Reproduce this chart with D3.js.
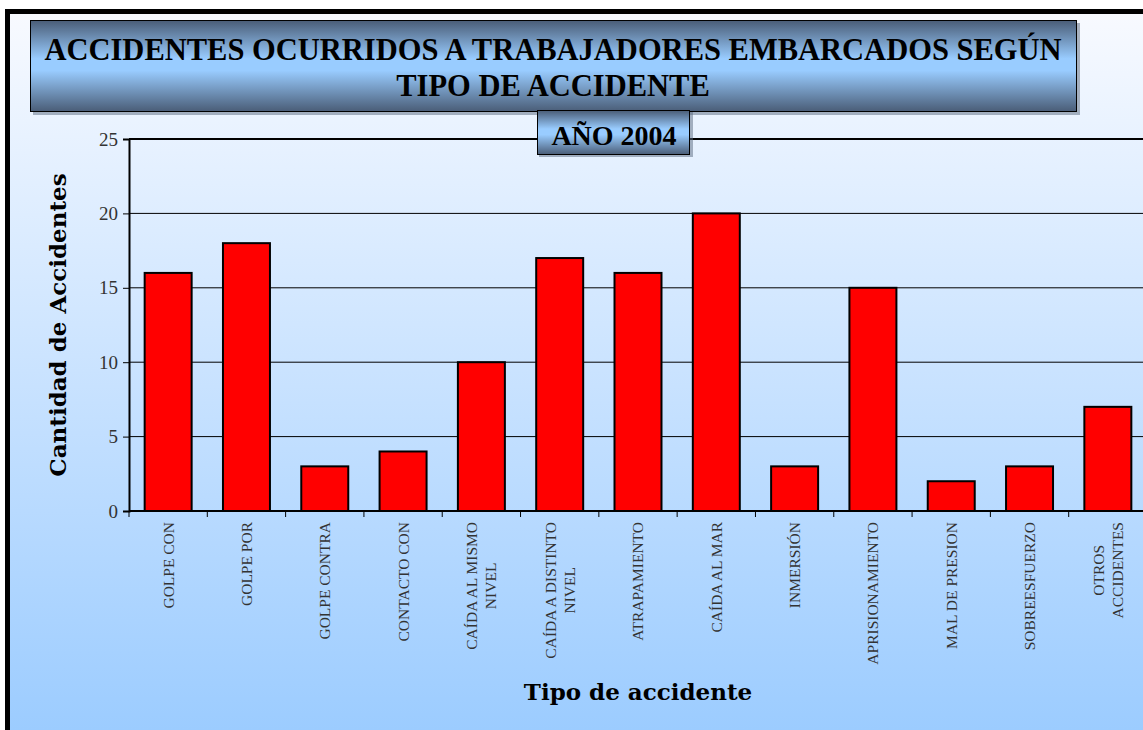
<!DOCTYPE html>
<html>
<head>
<meta charset="utf-8">
<script src="https://cdn.jsdelivr.net/npm/d3@7"></script>
<style>
  html, body { margin: 0; padding: 0; background: #fff; overflow: hidden; }
</style>
</head>
<body>
<svg id="chart" width="1143" height="730"></svg>
<script>
// Data.
const categories = [
  "GOLPE CON", "GOLPE POR", "GOLPE CONTRA", "CONTACTO CON",
  "CAÍDA AL MISMO\nNIVEL", "CAÍDA A DISTINTO\nNIVEL", "ATRAPAMIENTO",
  "CAÍDA AL MAR", "INMERSIÓN", "APRISIONAMIENTO", "MAL DE PRESION",
  "SOBREESFUERZO", "OTROS\nACCIDENTES"
];
const values = [16, 18, 3, 4, 10, 17, 16, 20, 3, 15, 2, 3, 7];
const yTicks = [0, 5, 10, 15, 20, 25];
const titleLines = ["ACCIDENTES OCURRIDOS A TRABAJADORES EMBARCADOS SEGÚN", "TIPO DE ACCIDENTE"];
const subtitle = "AÑO 2004";
const yTitle = "Cantidad de Accidentes";
const xTitle = "Tipo de accidente";

const svg = d3.select("#chart");
const W = 1143, H = 730;
const plot = {left: 129, top: 139, right: 1147, bottom: 511};

// Gradients
let defs = svg.append("defs");
let bg = defs.append("linearGradient").attr("id", "bg")
  .attr("x1", 0).attr("y1", 0).attr("x2", 0).attr("y2", 1);
bg.append("stop").attr("offset", "0%").attr("stop-color", "#f8faff");
bg.append("stop").attr("offset", "100%").attr("stop-color", "#98caff");

let tb = defs.append("linearGradient").attr("id", "titlebox")
  .attr("x1", 0).attr("y1", 0).attr("x2", 0).attr("y2", 1);
tb.append("stop").attr("offset", "0%").attr("stop-color", "#4a5d77");
tb.append("stop").attr("offset", "42%").attr("stop-color", "#99ccff");
tb.append("stop").attr("offset", "55%").attr("stop-color", "#99ccff");
tb.append("stop").attr("offset", "100%").attr("stop-color", "#4a5d77");

// Outer frame
svg.append("rect")
  .attr("x", 7.5).attr("y", 11.5)
  .attr("width", W + 20).attr("height", H + 20)
  .attr("fill", "url(#bg)")
  .attr("stroke", "#000").attr("stroke-width", 5);

// Scales
const x = d3.scaleBand()
  .domain(categories)
  .range([plot.left, plot.right])
  .paddingInner(0.4)
  .paddingOuter(0.2);

const y = d3.scaleLinear()
  .domain([0, 25])
  .range([plot.bottom, plot.top]);

// Gridlines
svg.append("g")
  .selectAll("line")
  .data(yTicks.filter(d => d > 0))
  .join("line")
    .attr("x1", plot.left).attr("x2", plot.right)
    .attr("y1", d => y(d)).attr("y2", d => y(d))
    .attr("stroke", "#000")
    .attr("stroke-width", d => d == 25 ? 2 : 1);

// Y axis
let yAxis = svg.append("g")
  .attr("transform", `translate(${plot.left},0)`)
  .call(d3.axisLeft(y).tickValues(yTicks).tickSize(6).tickPadding(5));
yAxis.select(".domain").attr("stroke", "#000").attr("stroke-width", 2);
yAxis.selectAll(".tick line").attr("stroke", "#000");
yAxis.selectAll(".tick text")
  .attr("font-family", "'Liberation Serif', serif")
  .attr("font-size", 19)
  .attr("fill", "#333");

// Bars
svg.append("g")
  .selectAll("rect")
  .data(values)
  .join("rect")
    .attr("x", (d, i) => x(categories[i]))
    .attr("y", d => y(d))
    .attr("width", x.bandwidth())
    .attr("height", d => y(0) - y(d))
    .attr("fill", "#ff0000")
    .attr("stroke", "#000")
    .attr("stroke-width", 2);

// X axis baseline and ticks between categories
svg.append("line")
  .attr("x1", plot.left).attr("x2", plot.right)
  .attr("y1", plot.bottom).attr("y2", plot.bottom)
  .attr("stroke", "#000").attr("stroke-width", 2);

svg.append("g")
  .selectAll("line")
  .data(d3.range(categories.length + 1))
  .join("line")
    .attr("x1", i => x.range()[0] + i * x.step())
    .attr("x2", i => x.range()[0] + i * x.step())
    .attr("y1", plot.bottom).attr("y2", plot.bottom + 6)
    .attr("stroke", "#000");

// Rotated category labels
let labels = svg.append("g")
  .selectAll("g")
  .data(categories)
  .join("g")
    .attr("transform", d => `translate(${x(d) + x.bandwidth() / 2},522) rotate(-90)`);

labels.each(function(d){
  let g = d3.select(this);
  let lines = d.split("\n");
  let n = lines.length;
  let texts = g.selectAll("text")
    .data(lines)
    .join("text")
      .attr("font-family", "'Liberation Serif', serif")
      .attr("font-size", 15.5)
      .attr("fill", "#333")
      .attr("text-anchor", "middle")
      .attr("dy", "0.35em")
      .attr("y", (l, i) => (i - (n - 1) / 2) * 19)
      .text(l => l);
  let maxW = d3.max(texts.nodes(), t => t.getComputedTextLength());
  texts.attr("x", -maxW / 2);
});

// Axis titles
svg.append("text")
  .attr("transform", "translate(66,325) rotate(-90)")
  .attr("text-anchor", "middle")
  .attr("font-family", "'DejaVu Serif', serif")
  .attr("font-weight", "bold")
  .attr("font-size", 23)
  .attr("fill", "#000")
  .text(yTitle);

svg.append("text")
  .attr("x", 638).attr("y", 700)
  .attr("text-anchor", "middle")
  .attr("font-family", "'DejaVu Serif', serif")
  .attr("font-weight", "bold")
  .attr("font-size", 23)
  .attr("fill", "#000")
  .text(xTitle);

// Title box
svg.append("rect")
  .attr("x", 33).attr("y", 23).attr("width", 1047).attr("height", 92)
  .attr("fill", "#5a6a80").attr("opacity", 0.5);
svg.append("rect")
  .attr("x", 30.5).attr("y", 20.5).attr("width", 1046).attr("height", 91)
  .attr("fill", "url(#titlebox)")
  .attr("stroke", "#000").attr("stroke-width", 1);

svg.append("g")
  .selectAll("text")
  .data(titleLines)
  .join("text")
    .attr("x", 553)
    .attr("y", (d, i) => 60 + i * 36)
    .attr("text-anchor", "middle")
    .attr("font-family", "'Liberation Serif', serif")
    .attr("font-weight", "bold")
    .attr("font-size", 30.5)
    .attr("fill", "#000")
    .text(d => d);

// Year box
svg.append("rect")
  .attr("x", 539).attr("y", 112).attr("width", 154).attr("height", 45)
  .attr("fill", "#5a6a80").attr("opacity", 0.5);
svg.append("rect")
  .attr("x", 537.5).attr("y", 110.5).attr("width", 152).attr("height", 44)
  .attr("fill", "url(#titlebox)")
  .attr("stroke", "#000").attr("stroke-width", 1);
svg.append("text")
  .attr("x", 614).attr("y", 145)
  .attr("text-anchor", "middle")
  .attr("font-family", "'Liberation Serif', serif")
  .attr("font-weight", "bold")
  .attr("font-size", 28)
  .attr("fill", "#000")
  .text(subtitle);
</script>
</body>
</html>
